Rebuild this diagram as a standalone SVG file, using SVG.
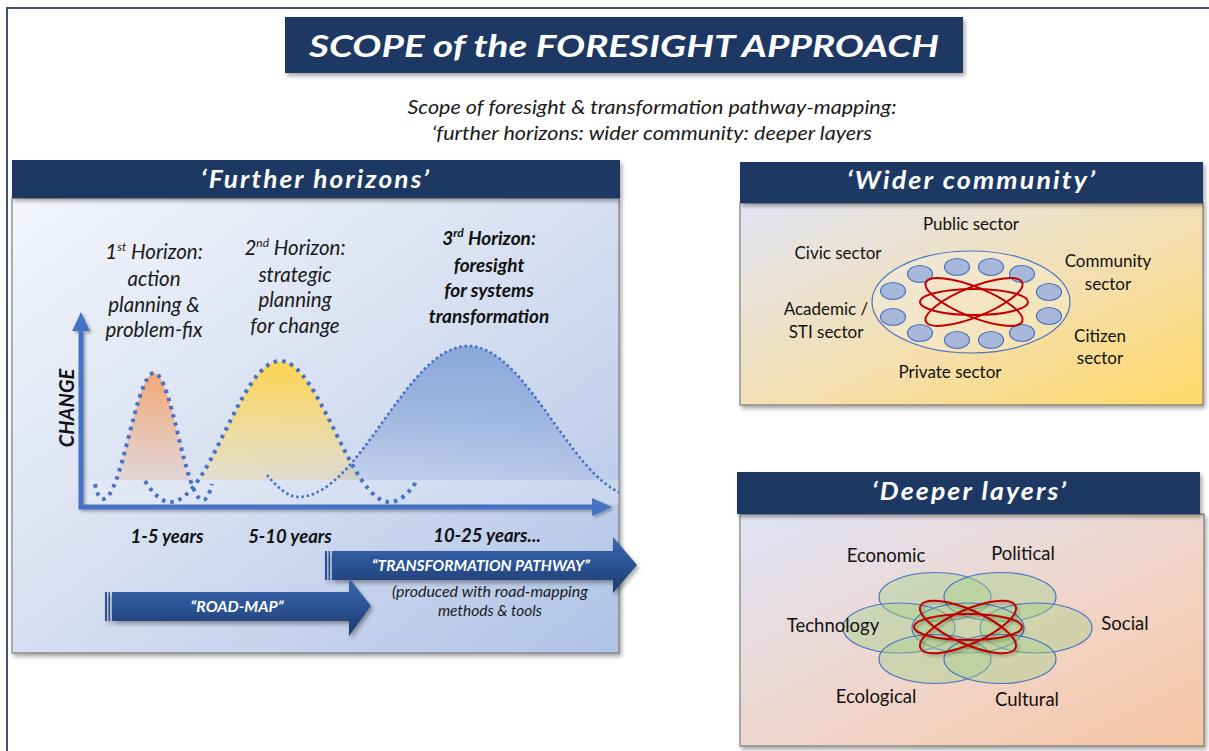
<svg xmlns="http://www.w3.org/2000/svg" width="1209" height="751" viewBox="0 0 1209 751">
<style>
.hdr{fill:#1F3864}
.hdrtxt{font-family:Lato,"Open Sans",sans-serif;font-weight:bold;font-style:italic;fill:#fff;text-anchor:middle}
.it{font-family:Lato,"Open Sans",sans-serif;font-style:italic;fill:#1a1a1a;text-anchor:middle}
.bi{font-family:Lato,"Open Sans",sans-serif;font-style:italic;font-weight:bold;fill:#111;text-anchor:middle}
.lbl{font-family:Lato,"Open Sans",sans-serif;font-size:17px;fill:#111;text-anchor:middle}
.lbl2{font-family:Lato,"Open Sans",sans-serif;font-size:18.5px;fill:#111;text-anchor:middle}
.body{stroke:#6b6b6b;stroke-width:1}
.sm{fill:#A7B7D9;stroke:#4A72BE;stroke-width:1.2}
.atom{fill:none;stroke:#C00000;stroke-width:2}
.petal{fill:#A9D18E;fill-opacity:0.45;stroke:#4A72C4;stroke-width:1.2}
.dot1{fill:none;stroke:#4472C4;stroke-width:4;stroke-dasharray:3.5 5}
.dot3{fill:none;stroke:#4472C4;stroke-width:2.6;stroke-dasharray:2.5 2.8}
.axis{stroke:#4472C4;stroke-width:5;fill:none}
.arrtxt{font-family:Lato,"Open Sans",sans-serif;font-style:italic;font-weight:bold;fill:#fff;text-anchor:middle;font-size:15.5px}
</style>
<defs>
<filter id="sh" x="-10%" y="-10%" width="130%" height="140%">
<feDropShadow dx="2" dy="3" stdDeviation="2" flood-color="#000" flood-opacity="0.35"/>
</filter>
<filter id="sh2" x="-10%" y="-20%" width="130%" height="160%">
<feDropShadow dx="2" dy="2" stdDeviation="1.5" flood-color="#000" flood-opacity="0.3"/>
</filter>
<linearGradient id="g1" x1="0" y1="0" x2="1" y2="1">
<stop offset="0" stop-color="#F4F5FB"/>
<stop offset="0.5" stop-color="#D6DFF1"/>
<stop offset="1" stop-color="#AFC3E6"/>
</linearGradient>
<linearGradient id="g2" x1="0" y1="0" x2="1" y2="1">
<stop offset="0" stop-color="#E1E4F4"/>
<stop offset="0.55" stop-color="#F3DFB0"/>
<stop offset="1" stop-color="#FFD966"/>
</linearGradient>
<linearGradient id="g3" x1="0" y1="0" x2="1" y2="1">
<stop offset="0" stop-color="#DFE3F6"/>
<stop offset="0.55" stop-color="#F0D5C9"/>
<stop offset="1" stop-color="#F7C6A4"/>
</linearGradient>
<linearGradient id="fo" x1="0" y1="0" x2="0" y2="1">
<stop offset="0" stop-color="#F2A878"/>
<stop offset="1" stop-color="#F2A878" stop-opacity="0.08"/>
</linearGradient>
<linearGradient id="fy" x1="0" y1="0" x2="0" y2="1">
<stop offset="0" stop-color="#FFD44F"/>
<stop offset="1" stop-color="#FFD966" stop-opacity="0.1"/>
</linearGradient>
<linearGradient id="fb" x1="0" y1="0" x2="0" y2="1">
<stop offset="0" stop-color="#8AA6DA"/>
<stop offset="0.45" stop-color="#8AA6DA" stop-opacity="0.7"/>
<stop offset="1" stop-color="#8AA6DA" stop-opacity="0.05"/>
</linearGradient>
<linearGradient id="ga" x1="0" y1="0" x2="0" y2="1">
<stop offset="0" stop-color="#3A66AD"/>
<stop offset="0.5" stop-color="#2C5395"/>
<stop offset="1" stop-color="#1E3866"/>
</linearGradient>
<clipPath id="cp"><rect x="12" y="198" width="607" height="282"/></clipPath>
<clipPath id="cp2"><rect x="12" y="198" width="607" height="455"/></clipPath>
</defs>

<rect x="7" y="8" width="1215" height="760" fill="#fff" stroke="#3F5273" stroke-width="2"/>

<g id="title">
<rect x="285" y="17" width="678" height="56" class="hdr" filter="url(#sh)"/>
<text x="624" y="57" class="hdrtxt" font-size="31" textLength="630" lengthAdjust="spacingAndGlyphs">SCOPE of the FORESIGHT APPROACH</text>
</g>

<g id="subtitle">
<text x="652" y="114" class="it" font-size="19.5" textLength="489" lengthAdjust="spacingAndGlyphs">Scope of foresight &amp; transformation pathway-mapping:</text>
<text x="652" y="140" class="it" font-size="19.5" textLength="440" lengthAdjust="spacingAndGlyphs">‘further horizons: wider community: deeper layers</text>
</g>

<g id="further-horizons">
<rect x="12" y="198" width="607" height="455" fill="url(#g1)" class="body" filter="url(#sh)"/>
<rect x="12" y="160" width="608" height="38" class="hdr" filter="url(#sh)"/>
<text x="316" y="188" class="hdrtxt" font-size="25" letter-spacing="2" textLength="230" lengthAdjust="spacingAndGlyphs">‘Further horizons’</text>

<g clip-path="url(#cp)">
<path d="M 267 475 C 277 487 288 497 298 497 C 360 497 406 346 468 346 C 530 346 576 497 638 497 L 638 480 L 267 480 Z" fill="url(#fb)"/>
<path d="M 170 502 C 210 502 240 361 280 361 C 320 361 350 502 390 502 Z" fill="url(#fy)"/>
<path d="M 103 499 C 122 499 136 373 154 373 C 172 373 185 500 203 500 Z" fill="url(#fo)"/>
</g>
<rect x="84" y="480" width="535" height="24" fill="#fff" fill-opacity="0.18"/>
<g clip-path="url(#cp2)">
<path class="dot3" d="M 267 475 C 277 487 288 497 298 497 C 360 497 406 346 468 346 C 530 346 576 497 638 497"/>
</g>
<path class="dot1" d="M 145 481 C 153 494 162 502 170 502 C 210 502 240 361 280 361 C 320 361 350 502 390 502 C 400 502 410 492 416 482"/>
<path class="dot1" d="M 95 484 Q 98 499 103 499 C 122 499 136 373 154 373 C 172 373 185 500 203 500 Q 208 500 212 484"/>

<g filter="url(#sh2)">
<path class="axis" d="M 81 330 L 81 507 L 594 507"/>
<path d="M 72 331 L 81 312 L 90 331 Z" fill="#4472C4"/>
<path d="M 592 498 L 612 507 L 592 516 Z" fill="#4472C4"/>
</g>
<text transform="translate(74,408) rotate(-90)" class="bi" font-size="20">CHANGE</text>

<text class="it" font-size="20.5"><tspan x="154" y="259">1<tspan font-size="12" dy="-8">st</tspan><tspan dy="8"> Horizon:</tspan></tspan><tspan x="154" y="286">action</tspan><tspan x="154" y="312">planning &amp;</tspan><tspan x="154" y="337">problem-fix</tspan></text>
<text class="it" font-size="20.5"><tspan x="295" y="255">2<tspan font-size="12" dy="-8">nd</tspan><tspan dy="8"> Horizon:</tspan></tspan><tspan x="295" y="282">strategic</tspan><tspan x="295" y="307">planning</tspan><tspan x="295" y="333">for change</tspan></text>
<text class="bi" font-size="19"><tspan x="489" y="245">3<tspan font-size="12" dy="-8">rd</tspan><tspan dy="8"> Horizon:</tspan></tspan><tspan x="489" y="272">foresight</tspan><tspan x="489" y="297">for systems</tspan><tspan x="489" y="323">transformation</tspan></text>

<text x="167" y="543" class="bi" font-size="18.5">1-5 years</text>
<text x="290" y="543" class="bi" font-size="18.5">5-10 years</text>
<text x="487" y="542" class="bi" font-size="18.5">10-25 years...</text>

<g id="arrow-transformation" filter="url(#sh)">
<rect x="325" y="551" width="2" height="29" fill="#2C5395"/>
<rect x="328.5" y="551" width="1.5" height="29" fill="#2C5395"/>
<path d="M 332 551 L 613 551 L 613 537 L 637 565 L 613 593 L 613 580 L 332 580 Z" fill="url(#ga)"/>
</g>
<text x="481" y="571" class="arrtxt" textLength="218" lengthAdjust="spacingAndGlyphs">“TRANSFORMATION PATHWAY”</text>
<g id="arrow-roadmap" filter="url(#sh)">
<rect x="105" y="592" width="2" height="29" fill="#2C5395"/>
<rect x="108.5" y="592" width="1.5" height="29" fill="#2C5395"/>
<path d="M 112 592 L 349 592 L 349 578 L 371 606 L 349 636 L 349 621 L 112 621 Z" fill="url(#ga)"/>
</g>
<text x="237" y="612" class="arrtxt" textLength="93" lengthAdjust="spacingAndGlyphs">“ROAD-MAP”</text>
<text x="490" y="597" class="it" font-size="15.5" textLength="196" lengthAdjust="spacingAndGlyphs">(produced with road-mapping</text>
<text x="490" y="616" class="it" font-size="15.5">methods &amp; tools</text>
</g>

<g id="wider-community">
<rect x="740" y="203" width="463" height="202" fill="url(#g2)" class="body" filter="url(#sh)"/>
<rect x="740" y="162" width="463" height="41" class="hdr" filter="url(#sh)"/>
<text x="972" y="189" class="hdrtxt" font-size="25" letter-spacing="2" textLength="250" lengthAdjust="spacingAndGlyphs">‘Wider community’</text>
<ellipse cx="971" cy="302" rx="99" ry="51" fill="#fff" fill-opacity="0.2" stroke="#4A72BE" stroke-width="1.2"/>
<ellipse class="sm" cx="920" cy="274" rx="12.5" ry="8.5"/>
<ellipse class="sm" cx="957" cy="267" rx="12.5" ry="8.5"/>
<ellipse class="sm" cx="991" cy="267" rx="12.5" ry="8.5"/>
<ellipse class="sm" cx="1022" cy="274" rx="12.5" ry="8.5"/>
<ellipse class="sm" cx="893" cy="291" rx="12.5" ry="8.5"/>
<ellipse class="sm" cx="1049" cy="292" rx="12.5" ry="8.5"/>
<ellipse class="sm" cx="893" cy="317" rx="12.5" ry="8.5"/>
<ellipse class="sm" cx="1049" cy="316" rx="12.5" ry="8.5"/>
<ellipse class="sm" cx="920" cy="333" rx="12.5" ry="8.5"/>
<ellipse class="sm" cx="957" cy="340" rx="12.5" ry="8.5"/>
<ellipse class="sm" cx="991" cy="340" rx="12.5" ry="8.5"/>
<ellipse class="sm" cx="1022" cy="333" rx="12.5" ry="8.5"/>
<g transform="translate(974,302)">
<ellipse class="atom" rx="54" ry="13"/>
<ellipse class="atom" rx="52" ry="15" transform="rotate(22)"/>
<ellipse class="atom" rx="52" ry="15" transform="rotate(-22)"/>
</g>
<text x="971" y="230" class="lbl">Public sector</text>
<text x="838" y="259" class="lbl">Civic sector</text>
<text x="1108" y="267" class="lbl">Community</text>
<text x="1108" y="290" class="lbl">sector</text>
<text x="826" y="315" class="lbl">Academic /</text>
<text x="826" y="338" class="lbl">STI sector</text>
<text x="1100" y="342" class="lbl">Citizen</text>
<text x="1100" y="364" class="lbl">sector</text>
<text x="950" y="378" class="lbl">Private sector</text>
</g>

<g id="deeper-layers">
<rect x="740" y="514" width="464" height="232" fill="url(#g3)" class="body" filter="url(#sh)"/>
<rect x="737" y="472" width="463" height="42" class="hdr" filter="url(#sh)"/>
<text x="970" y="500" class="hdrtxt" font-size="25" letter-spacing="2" textLength="196" lengthAdjust="spacingAndGlyphs">‘Deeper layers’</text>
<ellipse class="petal" cx="935" cy="597" rx="56" ry="24.5"/>
<ellipse class="petal" cx="1000" cy="597" rx="56" ry="24.5"/>
<ellipse class="petal" cx="899" cy="628" rx="56" ry="25"/>
<ellipse class="petal" cx="1036" cy="628" rx="56" ry="25"/>
<ellipse class="petal" cx="968" cy="628" rx="56" ry="25"/>
<ellipse class="petal" cx="935" cy="659" rx="56" ry="24.5"/>
<ellipse class="petal" cx="1000" cy="659" rx="56" ry="24.5"/>
<g transform="translate(968,627)" filter="url(#sh2)">
<ellipse class="atom" stroke-width="2.6" rx="54" ry="13"/>
<ellipse class="atom" stroke-width="2.6" rx="52" ry="17" transform="rotate(24)"/>
<ellipse class="atom" stroke-width="2.6" rx="52" ry="17" transform="rotate(-24)"/>
</g>
<text x="886" y="562" class="lbl2">Economic</text>
<text x="1023" y="560" class="lbl2">Political</text>
<text x="833" y="632" class="lbl2">Technology</text>
<text x="1125" y="630" class="lbl2">Social</text>
<text x="876" y="703" class="lbl2">Ecological</text>
<text x="1027" y="706" class="lbl2">Cultural</text>
</g>
</svg>
